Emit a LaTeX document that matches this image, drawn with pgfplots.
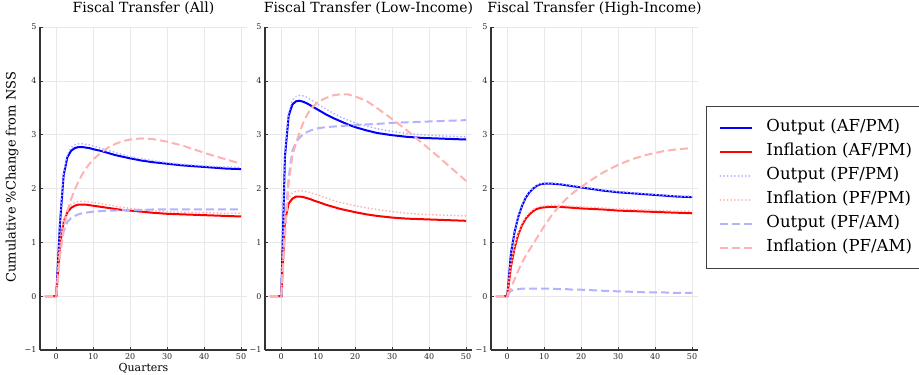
\documentclass[border=0pt]{standalone}
\usepackage{pgfplots}
\pgfplotsset{compat=1.18}
\usepackage{pgfplotstable}
\usepackage{fontspec}
\setmainfont{DejaVu Serif}
\definecolor{lb}{RGB}{178,178,255}
\definecolor{lr}{RGB}{255,178,178}
\definecolor{ob}{RGB}{0,0,255}
\definecolor{ir}{RGB}{255,0,0}

% columns: t, output AF/PM, inflation AF/PM, output PF/PM, inflation PF/PM, output PF/AM, inflation PF/AM
\pgfplotstableread{
t oAF iAF oPP iPP oPA iPA
-3 0 0 0 0 0 0
-2 0 0 0 0 0 0
-1 0 0 0 0 0 0
0 0 0 0 0 0 0
1 1.35 0.95 1.40 1.00 0.80 0.75
2 2.25 1.38 2.30 1.42 1.20 1.25
3 2.58 1.56 2.63 1.60 1.38 1.58
4 2.70 1.64 2.76 1.70 1.45 1.80
5 2.75 1.68 2.81 1.74 1.49 1.98
6 2.77 1.70 2.83 1.76 1.52 2.13
7 2.77 1.70 2.83 1.76 1.54 2.26
8 2.76 1.70 2.82 1.76 1.55 2.37
9 2.75 1.69 2.81 1.75 1.56 2.46
10 2.73 1.68 2.79 1.74 1.57 2.54
12 2.70 1.66 2.75 1.72 1.58 2.66
14 2.66 1.64 2.71 1.70 1.59 2.76
16 2.62 1.62 2.67 1.67 1.59 2.83
18 2.59 1.60 2.63 1.65 1.60 2.88
20 2.56 1.59 2.59 1.63 1.60 2.91
23 2.52 1.57 2.55 1.61 1.60 2.93
26 2.49 1.55 2.52 1.59 1.61 2.92
30 2.46 1.53 2.48 1.57 1.61 2.87
34 2.43 1.52 2.45 1.56 1.61 2.80
38 2.41 1.51 2.43 1.55 1.61 2.71
42 2.39 1.50 2.41 1.55 1.61 2.62
46 2.37 1.49 2.40 1.54 1.61 2.54
50 2.36 1.48 2.39 1.54 1.61 2.46
}\tabAll

\pgfplotstableread{
t oAF iAF oPP iPP oPA iPA
-3 0 0 0 0 0 0
-2 0 0 0 0 0 0
-1 0 0 0 0 0 0
0 0 0 0 0 0 0
1 2.60 1.40 2.65 1.50 1.30 1.10
2 3.35 1.72 3.42 1.83 2.20 2.10
3 3.56 1.81 3.64 1.92 2.70 2.60
4 3.62 1.85 3.71 1.95 2.86 2.85
5 3.63 1.85 3.73 1.96 2.95 3.05
6 3.61 1.84 3.72 1.95 3.01 3.23
7 3.58 1.82 3.69 1.94 3.05 3.37
8 3.54 1.80 3.65 1.92 3.08 3.48
9 3.50 1.77 3.61 1.90 3.10 3.55
10 3.46 1.75 3.56 1.88 3.12 3.61
12 3.38 1.70 3.48 1.83 3.14 3.68
14 3.31 1.66 3.40 1.78 3.15 3.73
16 3.25 1.62 3.33 1.74 3.16 3.75
18 3.19 1.59 3.27 1.71 3.17 3.75
20 3.14 1.56 3.22 1.68 3.18 3.71
23 3.08 1.52 3.16 1.64 3.19 3.63
26 3.03 1.49 3.11 1.61 3.20 3.49
30 2.99 1.46 3.06 1.57 3.22 3.29
34 2.96 1.44 3.02 1.54 3.23 3.08
38 2.94 1.43 3.00 1.52 3.24 2.85
42 2.93 1.42 2.98 1.51 3.25 2.62
46 2.92 1.41 2.97 1.50 3.26 2.38
50 2.91 1.40 2.96 1.49 3.27 2.14
}\tabLow

\pgfplotstableread{
t oAF iAF oPP iPP oPA iPA
-3 0 0 0 0 0 0
-2 0 0 0 0 0 0
-1 0 0 0 0 0 0
0 0 0 0 0 0 0
1 0.80 0.55 0.81 0.57 0.10 0.15
2 1.20 0.90 1.21 0.93 0.12 0.32
3 1.48 1.15 1.49 1.18 0.13 0.48
4 1.68 1.32 1.69 1.35 0.14 0.62
5 1.83 1.44 1.84 1.47 0.14 0.75
6 1.93 1.52 1.94 1.55 0.14 0.86
7 2.00 1.58 2.01 1.61 0.14 0.97
8 2.05 1.62 2.06 1.65 0.14 1.08
9 2.08 1.64 2.09 1.67 0.14 1.19
10 2.09 1.65 2.10 1.68 0.14 1.30
12 2.09 1.66 2.10 1.69 0.14 1.50
14 2.08 1.66 2.09 1.69 0.13 1.67
16 2.06 1.65 2.07 1.68 0.13 1.81
18 2.04 1.64 2.05 1.67 0.12 1.93
20 2.02 1.63 2.03 1.66 0.12 2.03
23 1.99 1.62 2.00 1.65 0.11 2.17
26 1.96 1.61 1.97 1.64 0.10 2.30
30 1.93 1.59 1.94 1.62 0.09 2.44
34 1.91 1.58 1.92 1.61 0.08 2.55
38 1.89 1.57 1.90 1.60 0.07 2.63
42 1.87 1.56 1.88 1.59 0.07 2.69
46 1.85 1.55 1.86 1.58 0.06 2.73
50 1.84 1.54 1.85 1.58 0.06 2.75
}\tabHigh

\pgfplotsset{
  panel/.style={
    scale only axis, width=207pt, height=323pt,
    xmin=-4.4, xmax=51.6, ymin=-1, ymax=5,
    axis lines=left, axis line style={-, line width=1.2pt, black!80},
    xtick={0,10,20,30,40,50}, ytick={-1,0,1,2,3,4,5},
    yticklabels={−1,0,1,2,3,4,5},
    grid=major, major grid style={black!9, line width=0.5pt},
    tick align=inside, major tick length=3pt, tick style={black!80, line width=0.6pt},
    tick label style={font=\fontsize{8}{10}\selectfont, text=black!85},
    /pgf/number format/assume math mode=true,
    title style={font=\fontsize{14}{16}\selectfont, at={(axis description cs:0.5,1.0)}, anchor=center, yshift=12.5pt},
    clip=true,
  },
  sAF/.style={line width=2pt},
  sPP/.style={line width=2pt, dash pattern=on 0.01pt off 3.6pt, line cap=round},
  sPA/.style={line width=2pt, dash pattern=on 8pt off 4pt},
}

\begin{document}
\begin{tikzpicture}
\useasboundingbox (0pt,0pt) rectangle (919pt,375pt);

\begin{axis}[panel, at={(40pt,25pt)}, anchor=south west,
  title={Fiscal Transfer (All)},
  xlabel={Quarters},
  xlabel style={font=\fontsize{11}{13}\selectfont, at={(axis description cs:0.5,-0.056)}, anchor=center},
  ylabel={Cumulative \%Change from NSS},
  ylabel style={font=\fontsize{13}{15}\selectfont, at={(axis description cs:-0.135,0.535)}, anchor=center}]
\addplot[sAF, ob] table[x=t,y=oAF]{\tabAll};
\addplot[sAF, ir] table[x=t,y=iAF]{\tabAll};
\addplot[sPP, lb] table[x=t,y=oPP]{\tabAll};
\addplot[sPP, lr] table[x=t,y=iPP]{\tabAll};
\addplot[sPA, lb] table[x=t,y=oPA]{\tabAll};
\addplot[sPA, lr] table[x=t,y=iPA]{\tabAll};
\end{axis}

\begin{axis}[panel, at={(265pt,25pt)}, anchor=south west,
  title={Fiscal Transfer (Low-Income)}]
\addplot[sAF, ob] table[x=t,y=oAF]{\tabLow};
\addplot[sAF, ir] table[x=t,y=iAF]{\tabLow};
\addplot[sPP, lb] table[x=t,y=oPP]{\tabLow};
\addplot[sPP, lr] table[x=t,y=iPP]{\tabLow};
\addplot[sPA, lb] table[x=t,y=oPA]{\tabLow};
\addplot[sPA, lr] table[x=t,y=iPA]{\tabLow};
\end{axis}

\begin{axis}[panel, at={(491pt,25pt)}, anchor=south west,
  title={Fiscal Transfer (High-Income)},
  legend cell align=left,
  legend image code/.code={\draw[#1] (0pt,0pt) -- (32pt,0pt);},
  legend style={at={(axis description cs:1.0386,0.7554)}, anchor=north west,
    draw=black!75, line width=1pt, fill=white,
    font=\fontsize{16.5}{19}\selectfont,
    inner xsep=13pt, inner ysep=13pt, row sep=8pt,
    nodes={inner sep=0pt, text height=12pt, text depth=4pt},
    /tikz/every odd column/.append style={column sep=13pt}}]
\addplot[sAF, ob] table[x=t,y=oAF]{\tabHigh};
\addlegendentry{Output (AF/PM)}
\addplot[sAF, ir] table[x=t,y=iAF]{\tabHigh};
\addlegendentry{Inflation (AF/PM)}
\addplot[sPP, lb] table[x=t,y=oPP]{\tabHigh};
\addlegendentry{Output (PF/PM)}
\addplot[sPP, lr] table[x=t,y=iPP]{\tabHigh};
\addlegendentry{Inflation (PF/PM)}
\addplot[sPA, lb] table[x=t,y=oPA]{\tabHigh};
\addlegendentry{Output (PF/AM)}
\addplot[sPA, lr] table[x=t,y=iPA]{\tabHigh};
\addlegendentry{Inflation (PF/AM)}
\end{axis}
\end{tikzpicture}
\end{document}
